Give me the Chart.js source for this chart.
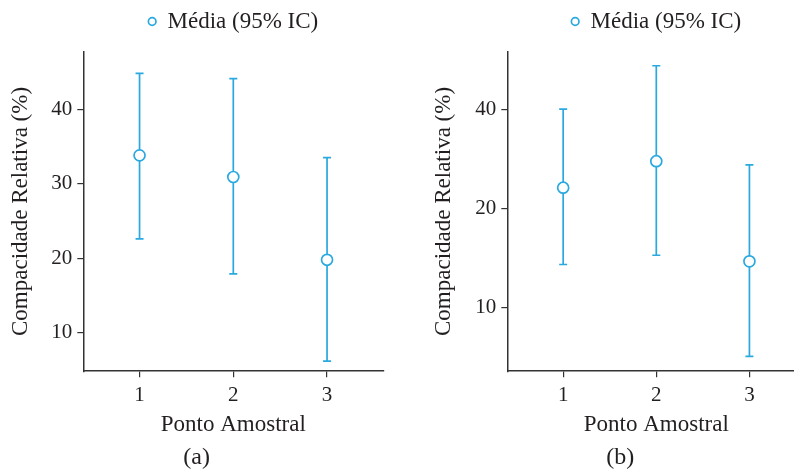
<!DOCTYPE html>
<html><head><meta charset="utf-8">
<script src="https://cdn.jsdelivr.net/npm/chart.js@4.4.1/dist/chart.umd.min.js"></script>
<style>
html,body{margin:0;padding:0;background:#fff;overflow:hidden;width:794px;height:472px;position:relative;}
#wrapA{position:absolute;left:10px;top:0;width:390px;height:472px;}
#wrapB{position:absolute;left:435px;top:0;width:387px;height:472px;}
canvas{display:block;}
</style></head><body>
<div id="wrapA"><canvas id="cA" width="390" height="472"></canvas></div>
<div id="wrapB"><canvas id="cB" width="387" height="472"></canvas></div>
<script>
// ---- data ----
const categories = [1, 2, 3];
const xTickLabels = ['1', '2', '3'];
const meanA  = [33.8, 30.9, 19.8];
const lowerA = [22.6, 17.9, 6.2];
const upperA = [44.8, 44.1, 33.5];
const yTicksA = [10, 20, 30, 40];
const meanB  = [23.1, 27.8, 13.8];
const lowerB = [13.5, 14.4, 7.1];
const upperB = [40.0, 54.2, 27.1];
const yTicksB = [10, 20, 40];
const legendLabel = 'Média (95% IC)';
const xTitle = 'Ponto Amostral';
const yTitle = 'Compacidade Relativa (%)';
const captions = ['(a)', '(b)'];

// ---- style ----
const BLUE = '#29a9e0';
const TEXT = '#231f20';
const AXIS = '#333333';
const FONT = '"Liberation Serif", "Times New Roman", serif';

const errorBars = {
  id: 'errorBars',
  beforeDatasetsDraw(chart) {
    const {ctx, scales: {x, y}} = chart;
    const ds = chart.data.datasets[0];
    ctx.save();
    ctx.strokeStyle = BLUE;
    ctx.lineWidth = 1.7;
    ds.data.forEach(pt => {
      const px = x.getPixelForValue(pt.x);
      const yl = y.getPixelForValue(pt.lo);
      const yh = y.getPixelForValue(pt.hi);
      ctx.beginPath();
      ctx.moveTo(px, yl); ctx.lineTo(px, yh);
      ctx.moveTo(px - 4, yl); ctx.lineTo(px + 4, yl);
      ctx.moveTo(px - 4, yh); ctx.lineTo(px + 4, yh);
      ctx.stroke();
    });
    ctx.restore();
  }
};

const legendHeight = {
  id: 'legendHeight',
  beforeLayout(chart, args, opts) {
    const lg = chart.legend;
    if (lg && !lg._hPatched) {
      const orig = lg.fit;
      lg.fit = function () { orig.call(this); this.height = opts.h; };
      lg._hPatched = true;
    }
  }
};

function makeChart(canvasId, means, lows, highs, yType, yMin, yMax, yTicks, yWidth, yTitlePad, caption) {
  const pts = categories.map((c, i) => ({x: c, y: means[i], lo: lows[i], hi: highs[i]}));
  return new Chart(document.getElementById(canvasId), {
    type: 'line',
    data: {
      datasets: [{
        label: legendLabel,
        data: pts,
        showLine: false,
        pointRadius: 5.5,
        pointHoverRadius: 5.5,
        pointBorderWidth: 1.7,
        pointBackgroundColor: '#ffffff',
        pointBorderColor: BLUE,
        backgroundColor: '#ffffff',
        borderColor: BLUE,
        borderWidth: 1.6
      }]
    },
    options: {
      responsive: false,
      animation: false,
      events: [],
      layout: {padding: {left: 0, right: 16.7, top: 0, bottom: 0}},
      plugins: {
        legendHeight: {h: 51.7},
        tooltip: {enabled: false},
        legend: {
          position: 'top',
          fullSize: false,
          labels: {
            usePointStyle: true,
            pointStyle: 'circle',
            boxHeight: 5.4,
            pointStyleWidth: 7.6,
            padding: 10,
            color: TEXT,
            font: {family: FONT, size: 23}
          }
        },
        title: {
          display: true,
          position: 'bottom',
          text: caption,
          color: TEXT,
          font: {family: FONT, size: 24, weight: 'normal'},
          padding: {top: 4, bottom: 0}
        }
      },
      scales: {
        x: {
          type: 'linear',
          min: 0.4,
          max: 3.6,
          afterBuildTicks: s => { s.ticks = categories.map(v => ({value: v})); },
          afterFit: s => { s.height = 68; },
          ticks: {
            autoSkip: false,
            maxRotation: 0,
            padding: 6,
            color: TEXT,
            font: {family: FONT, size: 21},
            callback: v => { const i = categories.indexOf(v); return i >= 0 ? xTickLabels[i] : ''; }
          },
          grid: {display: true, drawOnChartArea: false, drawTicks: true, tickLength: 6, color: AXIS, lineWidth: 1.2},
          border: {display: true, color: AXIS, width: 1.5},
          title: {display: true, text: xTitle, color: TEXT, font: {family: FONT, size: 23}, padding: {top: 0, bottom: 0}}
        },
        y: {
          type: yType,
          min: yMin,
          max: yMax,
          afterBuildTicks: s => { s.ticks = yTicks.map(v => ({value: v})); },
          afterFit: s => { s.width = yWidth; },
          ticks: {
            padding: 5,
            color: TEXT,
            font: {family: FONT, size: 21},
            callback: v => String(v)
          },
          grid: {display: true, drawOnChartArea: false, drawTicks: true, tickLength: 6, color: AXIS, lineWidth: 1.2},
          border: {display: true, color: AXIS, width: 1.5},
          title: {display: true, text: yTitle, color: TEXT, font: {family: FONT, size: 23, lineHeight: 0.8}, padding: {top: yTitlePad, bottom: 0}}
        }
      }
    },
    plugins: [errorBars, legendHeight]
  });
}

makeChart('cA', meanA, lowerA, upperA, 'linear', 4.86, 47.7, yTicksA, 73.3, 1.5, captions[0]);
makeChart('cB', meanB, lowerB, upperB, 'logarithmic', 6.4, 59.8, yTicksB, 72.3, 0.2, captions[1]);
</script>
</body></html>
